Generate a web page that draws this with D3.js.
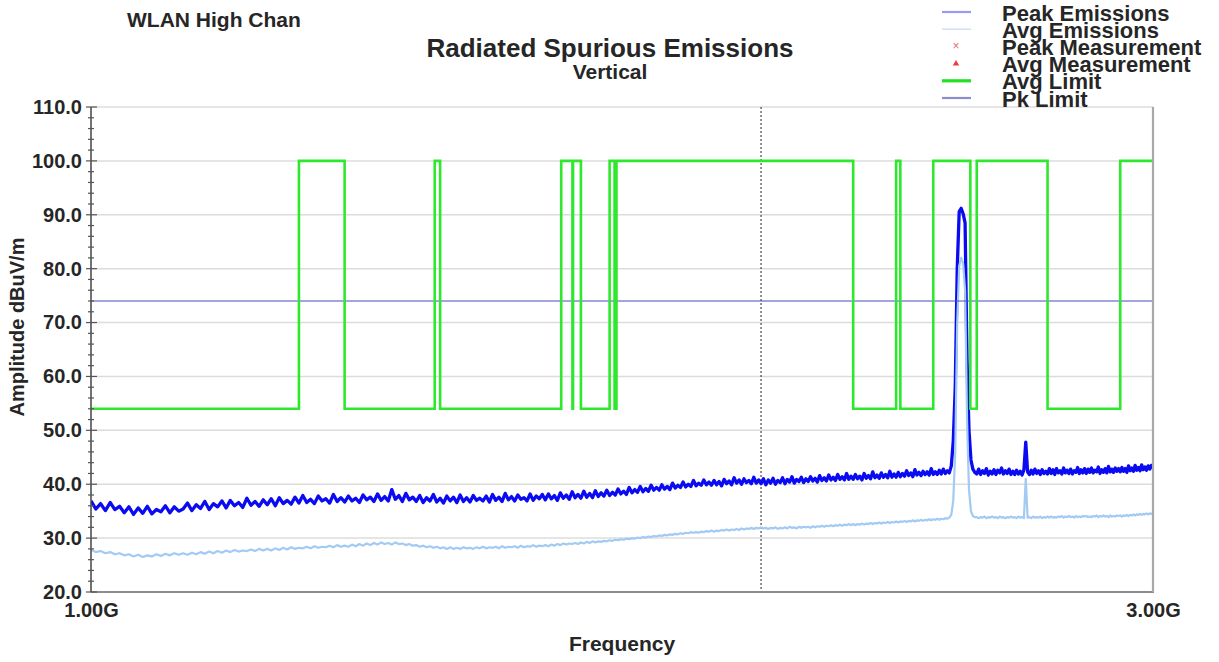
<!DOCTYPE html>
<html><head><meta charset="utf-8">
<script src="https://cdn.jsdelivr.net/npm/d3@7"></script>
<style>
body{margin:0;background:#fff}
svg{display:block}
text{font-family:"Liberation Sans",Arial,sans-serif;font-weight:bold;fill:#262626}
</style>
</head><body>
<svg id="c" width="1219" height="662"></svg>
<script>
// ---------- data ----------
const sweepStartGHz = 1.0;
const sweepStepGHz = 0.005;

const peakEmissions = [
36.9,35.4,36.4,35.1,36.6,35.3,35.9,34.7,35.8,34.4,35.6,34.6,35.9,34.5,35.3,34.9,36.0,34.7,35.8,35.0,
35.4,36.5,35.1,36.2,35.5,36.8,35.3,36.4,35.8,36.9,35.6,37.0,36.0,36.6,35.7,37.4,36.1,36.8,35.9,37.1,
36.2,37.3,36.0,37.5,36.4,37.0,36.3,37.6,36.5,37.9,36.6,37.2,36.4,37.8,36.9,37.3,36.5,38.1,36.8,37.5,
36.7,37.8,36.9,37.4,36.6,38.0,37.1,37.6,36.8,38.2,37.0,37.7,36.9,39.0,37.2,37.9,36.8,38.3,37.1,37.6,
36.8,37.9,36.6,37.5,36.9,38.1,36.7,37.4,36.5,37.8,36.9,37.6,36.6,38.0,36.8,37.5,36.7,37.9,37.0,37.4,
36.9,37.8,36.7,38.1,37.0,37.6,36.8,38.3,37.1,37.7,36.9,38.0,37.2,37.5,36.9,38.2,37.0,37.8,37.3,38.1,
37.1,38.2,37.3,37.9,37.0,38.4,37.4,38.0,37.2,38.6,37.5,38.1,37.4,38.7,37.6,38.3,37.5,38.8,37.7,38.4,
37.8,38.9,37.9,38.5,38.0,39.1,38.2,38.7,38.1,39.4,38.4,39.0,38.5,39.6,38.6,39.2,38.7,39.8,38.9,39.4,
38.9,39.9,39.1,39.6,39.0,40.2,39.3,39.8,39.4,40.4,39.5,40.0,39.6,40.7,39.7,40.2,39.8,40.8,39.9,40.4,
39.8,40.7,39.9,40.5,39.7,40.9,40.1,40.6,39.9,41.2,40.2,40.8,40.0,41.0,40.3,40.7,40.1,41.3,40.2,40.8,
40.1,41.0,39.9,40.8,40.2,41.1,40.0,40.7,40.3,41.2,40.1,40.9,40.4,41.4,40.2,40.9,40.5,41.3,40.3,41.0,
40.5,41.4,40.6,41.1,40.4,41.6,40.7,41.2,40.6,41.7,40.8,41.3,40.7,41.8,40.9,41.4,40.8,42.0,40.9,41.5,
40.9,41.8,41.0,41.5,40.8,42.0,41.1,41.6,41.0,42.3,41.2,41.7,41.1,42.1,41.3,41.8,41.2,42.4,41.3,41.9,
41.3,42.2,41.4,42.0,41.5,42.5,41.6,42.1,41.4,42.7,41.7,42.2,41.6,42.4,41.8,42.3,41.7,42.9,41.8,42.3,
41.8,42.6,41.9,42.8,42.0,42.5,42.1,43.4,48.0,58.0,80.0,90.6,91.2,90.2,88.5,63.0,50.0,44.5,42.8,42.2,
41.9,42.8,41.8,42.5,42.0,42.9,41.7,42.4,41.9,42.7,41.8,42.6,42.1,43.0,41.9,42.5,42.0,42.8,41.8,42.4,
41.8,42.6,41.9,42.4,41.7,42.7,47.8,42.3,41.8,42.6,41.9,42.8,42.0,42.5,41.8,42.7,42.0,42.4,41.9,42.9,
42.0,42.7,41.8,42.9,42.1,42.5,41.9,43.0,42.1,42.6,42.0,42.8,41.9,42.5,42.2,43.1,42.0,42.7,42.1,42.9,
42.0,42.8,42.2,43.0,42.1,42.6,42.3,43.2,42.0,42.7,42.2,42.9,42.1,43.3,42.3,42.8,42.2,43.0,42.4,42.9,
42.3,43.1,42.4,42.9,42.2,43.4,42.5,43.0,42.4,43.5,42.6,43.1,42.5,43.6,42.7,43.2,42.6,43.4,42.8,43.5,
43.0
];

const avgEmissions = [
27.9,27.4,27.6,27.2,27.4,27.0,27.2,26.8,27.0,26.6,26.9,26.5,26.8,26.6,27.0,26.7,27.1,26.8,27.2,26.9,
27.2,26.9,27.3,27.0,27.4,27.1,27.5,27.2,27.6,27.3,27.7,27.4,27.8,27.5,27.7,27.6,27.9,27.6,28.0,27.7,
28.0,27.7,28.1,27.8,28.2,27.9,28.3,28.0,28.2,28.1,28.4,28.1,28.5,28.2,28.4,28.3,28.6,28.3,28.7,28.4,
28.6,28.4,28.8,28.5,28.9,28.6,29.0,28.7,29.1,28.8,29.2,28.9,29.1,28.8,29.2,28.9,29.0,28.7,28.9,28.6,
28.7,28.4,28.6,28.3,28.5,28.2,28.4,28.1,28.3,28.0,28.3,28.0,28.2,28.0,28.3,28.1,28.2,28.0,28.3,28.1,
28.4,28.1,28.3,28.2,28.4,28.1,28.5,28.2,28.4,28.3,28.5,28.2,28.6,28.3,28.5,28.4,28.7,28.4,28.6,28.5,
28.7,28.5,28.8,28.6,28.9,28.7,29.0,28.8,29.0,28.9,29.1,28.9,29.2,29.0,29.3,29.1,29.4,29.2,29.4,29.3,
29.5,29.4,29.6,29.5,29.7,29.6,29.8,29.7,29.9,29.8,30.0,29.9,30.1,30.0,30.2,30.1,30.3,30.2,30.4,30.3,
30.5,30.4,30.6,30.5,30.7,30.6,30.8,30.7,30.9,30.8,31.0,30.9,31.1,31.0,31.1,31.0,31.2,31.1,31.3,31.2,
31.4,31.2,31.4,31.3,31.5,31.4,31.6,31.4,31.6,31.5,31.7,31.5,31.8,31.6,31.8,31.7,31.9,31.7,31.9,31.8,
32.0,31.8,31.9,31.7,31.9,31.8,32.0,31.7,31.9,31.8,32.0,31.8,32.1,31.9,32.0,31.8,32.1,31.9,32.1,32.0,
32.1,31.9,32.2,32.0,32.2,32.1,32.3,32.1,32.3,32.2,32.4,32.2,32.4,32.3,32.5,32.3,32.5,32.4,32.6,32.4,
32.6,32.4,32.6,32.5,32.7,32.5,32.7,32.6,32.8,32.6,32.8,32.7,32.9,32.7,32.9,32.8,33.0,32.8,33.0,32.9,
33.1,32.9,33.1,33.0,33.2,33.0,33.2,33.1,33.3,33.1,33.3,33.2,33.4,33.2,33.4,33.3,33.5,33.3,33.5,33.4,
33.6,33.4,33.6,33.5,33.7,33.6,33.8,34.3,37.0,46.0,70.0,80.5,82.0,81.0,76.0,52.0,39.0,35.0,34.1,33.9,
33.9,33.7,33.9,33.8,34.0,33.7,33.9,33.8,34.0,33.8,33.9,33.7,34.0,33.8,33.9,33.7,33.9,33.8,34.0,33.8,
33.9,33.7,34.0,33.8,33.9,33.7,41.0,33.8,33.9,33.7,34.0,33.8,33.9,33.8,34.0,33.7,33.9,33.8,34.0,33.8,
34.0,33.8,33.9,33.8,34.0,33.9,34.1,33.8,34.0,33.9,34.1,33.9,34.0,33.8,34.1,33.9,34.0,33.9,34.1,34.0,
34.1,33.9,34.0,33.9,34.1,34.0,34.2,33.9,34.1,34.0,34.2,34.0,34.1,33.9,34.2,34.0,34.1,34.0,34.2,34.1,
34.2,34.0,34.2,34.1,34.3,34.1,34.3,34.2,34.4,34.2,34.4,34.3,34.5,34.3,34.5,34.4,34.6,34.4,34.6,34.5,
34.5
];

const limitEdgesGHz = [1.0,1.24,1.30,1.427,1.435,1.6265,1.6455,1.6465,1.66,1.71,1.7188,1.7222,2.2,2.3,2.31,2.39,2.4835,2.5,2.69,2.9,3.0];
const avgLimitLevels = [54,100,54,100,54,100,54,100,54,100,54,100,54,100,54,100,54,100,54,100];
const pkLimitLevel = 74;

const yTicks = [20,30,40,50,60,70,80,90,100,110];
const yMinorTicks = [20,22,24,26,28,30,32,34,36,38,40,42,44,46,48,50,52,54,56,58,60,62,64,66,68,70,72,74,76,78,80,82,84,86,88,90,92,94,96,98,100,102,104,106,108,110];
const xTickValues = [1.0, 3.0];
const xTickLabels = ["1.00G", "3.00G"];
const markerGHz = 2.0;

const legendLabels = ["Peak Emissions","Avg Emissions","Peak Measurement","Avg Measurement","Avg Limit","Pk Limit"];

// ---------- chart ----------
const svg = d3.select("#c");
const L = 91, R = 1153, T = 107, B = 592;
const x = d3.scaleLog().domain([1, 3]).range([L, R]);
const y = d3.scaleLinear().domain([20, 110]).range([B, T]);

svg.append("rect").attr("width",1219).attr("height",662).attr("fill","#fff");

svg.append("defs").append("clipPath").attr("id","plot")
  .append("rect").attr("x",L).attr("y",T-2).attr("width",R-L).attr("height",B-T+2);

// gridlines
svg.append("g").selectAll("line").data(yTicks.filter(d=>d>20)).join("line")
  .attr("x1",L).attr("x2",R).attr("y1",d=>y(d)).attr("y2",d=>y(d))
  .attr("stroke","#dcdcdc").attr("stroke-width",1.5);

// marker dotted line at 2 GHz
svg.append("line").attr("x1",x(markerGHz)).attr("x2",x(markerGHz)).attr("y1",T).attr("y2",B)
  .attr("stroke","#222").attr("stroke-width",1).attr("stroke-dasharray","2,2");

const g = svg.append("g").attr("clip-path","url(#plot)");

const freqOf = i => sweepStartGHz + i*sweepStepGHz;
const line = d3.line().x((d,i)=>x(freqOf(i))).y(d=>y(d));

g.append("path").datum(peakEmissions).attr("d",line)
  .attr("fill","none").attr("stroke","#0b0bf2").attr("stroke-width",3.3).attr("stroke-linejoin","round");
g.append("path").datum(avgEmissions).attr("d",line)
  .attr("fill","none").attr("stroke","#a2caf3").attr("stroke-width",2.2).attr("stroke-linejoin","round");

// Pk limit
g.append("line").attr("x1",L).attr("x2",R).attr("y1",y(pkLimitLevel)).attr("y2",y(pkLimitLevel))
  .attr("stroke","#4a4ac0").attr("stroke-width",1.2);

// Avg limit (step)
const limPts = avgLimitLevels.map((v,i)=>[limitEdgesGHz[i], v]);
limPts.push([limitEdgesGHz[limitEdgesGHz.length-1], avgLimitLevels[avgLimitLevels.length-1]]);
g.append("path").datum(limPts)
  .attr("d", d3.line().curve(d3.curveStepAfter).x(d=>x(d[0])).y(d=>y(d[1])))
  .attr("fill","none").attr("stroke","#2ee82e").attr("stroke-width",2.6);

// frame: bottom and right
svg.append("line").attr("x1",L).attr("x2",R+1).attr("y1",B).attr("y2",B)
  .attr("stroke","#8c8c8c").attr("stroke-width",2.2);
svg.append("line").attr("x1",R).attr("x2",R).attr("y1",T).attr("y2",B)
  .attr("stroke","#a8a8a8").attr("stroke-width",2.2);

// left axis line + ticks
svg.append("line").attr("x1",L).attr("x2",L).attr("y1",T).attr("y2",B)
  .attr("stroke","#444").attr("stroke-width",1.5);
svg.append("g").selectAll("line").data(yMinorTicks).join("line")
  .attr("x1",d=> yTicks.includes(d)? L-5 : L-3).attr("x2",d=> yTicks.includes(d)? L+6 : L+3)
  .attr("y1",d=>y(d)).attr("y2",d=>y(d)).attr("stroke","#555").attr("stroke-width",1.2);

// y tick labels via axis
const yAx = svg.append("g").attr("transform",`translate(${L},0)`)
  .call(d3.axisLeft(y).tickValues(yTicks).tickFormat(d3.format(".1f")).tickSize(0).tickPadding(9));
yAx.select(".domain").remove();
yAx.selectAll("text").style("font-size","20px").style("font-family","'Liberation Sans',Arial,sans-serif")
  .style("font-weight","bold").attr("fill","#2a2a2a");

// x tick labels
const xAx = svg.append("g").attr("transform",`translate(0,${B})`)
  .call(d3.axisBottom(x).tickValues(xTickValues).tickFormat((d,i)=>xTickLabels[i]).tickSize(0).tickPadding(11));
xAx.select(".domain").remove();
xAx.selectAll("text").style("font-size","20px").style("font-family","'Liberation Sans',Arial,sans-serif")
  .style("font-weight","bold").attr("fill","#2a2a2a");

// axis titles
svg.append("text").attr("x",(L+R)/2).attr("y",651).attr("text-anchor","middle")
  .style("font-size","21px").text("Frequency");
svg.append("text").attr("transform","translate(24,327) rotate(-90)").attr("text-anchor","middle")
  .style("font-size","20px").text("Amplitude dBuV/m");

// titles
svg.append("text").attr("x",610).attr("y",57).attr("text-anchor","middle")
  .style("font-size","26px").text("Radiated Spurious Emissions");
svg.append("text").attr("x",610).attr("y",79).attr("text-anchor","middle")
  .style("font-size","21px").text("Vertical");
svg.append("text").attr("x",127).attr("y",27)
  .style("font-size","21px").text("WLAN High Chan");

// legend
const lg = svg.append("g");
const rowY = i => 12 + i*17.2;
const symColors = ["#9a9af2","#cfe2f8","#e07070","#ee3b3b","#22e022","#8c8cd0"];
legendLabels.forEach((lab,i)=>{
  const yy = rowY(i);
  if (i===2) {
    lg.append("text").attr("x",956).attr("y",yy+4).attr("text-anchor","middle")
      .style("font-size","12px").style("font-weight","normal").style("fill","#e07070").text("×");
  } else if (i===3) {
    lg.append("path").attr("d",d3.symbol(d3.symbolTriangle,18)()).attr("transform",`translate(956,${yy})`)
      .attr("fill","#ee3b3b");
  } else {
    lg.append("line").attr("x1",942).attr("x2",971).attr("y1",yy).attr("y2",yy)
      .attr("stroke",symColors[i]).attr("stroke-width", i===4?3.2:(i===1?1.5:2.2));
  }
  lg.append("text").attr("x",1002).attr("y",yy+8.5).style("font-size","22px").text(lab);
});
</script>
</body></html>
